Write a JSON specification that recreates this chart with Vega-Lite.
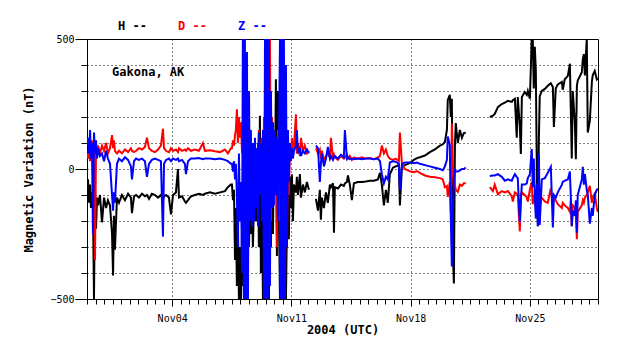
{
"$schema": "https://vega.github.io/schema/vega-lite/v6.json",
"width": 511, "height": 260,
"autosize": {"type": "none"},
"padding": {"left": 87, "top": 39, "right": 40, "bottom": 60},
"background": "white",
"config": {"view": {"stroke": "black", "strokeWidth": 1}, "font": "DejaVu Sans Mono"},
"layer": [
{
"data": {"values": [
{"x":-1.00,"g":0,"H":-110,"D":60,"Z":90},
{"x":-0.94,"g":0,"H":-40,"D":40,"Z":120},
{"x":-0.88,"g":0,"H":-130,"D":80,"Z":60},
{"x":-0.82,"g":0,"H":-60,"D":30,"Z":150},
{"x":-0.77,"g":0,"H":-150,"D":70,"Z":40},
{"x":-0.71,"g":0,"H":-90,"D":110,"Z":100},
{"x":-0.65,"g":0,"H":-140,"D":50,"Z":-250},
{"x":-0.59,"g":0,"H":-500,"D":90,"Z":140},
{"x":-0.53,"g":0,"H":-80,"D":-350,"Z":60},
{"x":-0.47,"g":0,"H":-230,"D":80,"Z":110},
{"x":-0.41,"g":0,"H":-110,"D":50,"Z":40},
{"x":-0.35,"g":0,"H":-140,"D":90,"Z":80},
{"x":-0.24,"g":0,"H":-100,"D":60,"Z":50},
{"x":-0.12,"g":0,"H":-205,"D":90,"Z":60},
{"x":0.00,"g":0,"H":-110,"D":70,"Z":30},
{"x":0.12,"g":0,"H":-150,"D":100,"Z":70},
{"x":0.23,"g":0,"H":-120,"D":60,"Z":40},
{"x":0.35,"g":0,"H":-140,"D":80,"Z":20},
{"x":0.47,"g":0,"H":-250,"D":130,"Z":-100},
{"x":0.53,"g":0,"H":-410,"D":80,"Z":-160},
{"x":0.58,"g":0,"H":-180,"D":110,"Z":-90},
{"x":0.64,"g":0,"H":-310,"D":70,"Z":-130},
{"x":0.76,"g":0,"H":-110,"D":60,"Z":20},
{"x":0.88,"g":0,"H":-130,"D":70,"Z":40},
{"x":1.05,"g":0,"H":-100,"D":60,"Z":30},
{"x":1.23,"g":0,"H":-120,"D":75,"Z":45},
{"x":1.41,"g":0,"H":-95,"D":65,"Z":35},
{"x":1.58,"g":0,"H":-110,"D":80,"Z":10},
{"x":1.64,"g":0,"H":-170,"D":70,"Z":-40},
{"x":1.76,"g":0,"H":-105,"D":65,"Z":30},
{"x":1.88,"g":0,"H":-100,"D":70,"Z":40},
{"x":2.05,"g":0,"H":-110,"D":80,"Z":35},
{"x":2.23,"g":0,"H":-95,"D":75,"Z":40},
{"x":2.40,"g":0,"H":-105,"D":85,"Z":30},
{"x":2.52,"g":0,"H":-100,"D":120,"Z":-30},
{"x":2.64,"g":0,"H":-115,"D":80,"Z":20},
{"x":2.81,"g":0,"H":-95,"D":70,"Z":35},
{"x":2.99,"g":0,"H":-100,"D":65,"Z":40},
{"x":3.17,"g":0,"H":-110,"D":75,"Z":35},
{"x":3.34,"g":0,"H":-100,"D":90,"Z":30},
{"x":3.46,"g":0,"H":-120,"D":155,"Z":-260},
{"x":3.52,"g":0,"H":-105,"D":80,"Z":20},
{"x":3.64,"g":0,"H":-100,"D":70,"Z":35},
{"x":3.81,"g":0,"H":-110,"D":65,"Z":40},
{"x":3.93,"g":0,"H":-175,"D":80,"Z":30},
{"x":4.05,"g":0,"H":-100,"D":70,"Z":40},
{"x":4.22,"g":0,"H":-90,"D":75,"Z":35},
{"x":4.34,"g":0,"H":0,"D":65,"Z":40},
{"x":4.40,"g":0,"H":-110,"D":80,"Z":30},
{"x":4.58,"g":0,"H":-105,"D":70,"Z":35},
{"x":4.75,"g":0,"H":-125,"D":75,"Z":20},
{"x":4.81,"g":0,"H":-130,"D":70,"Z":-20},
{"x":4.93,"g":0,"H":-120,"D":80,"Z":30},
{"x":5.10,"g":0,"H":-105,"D":70,"Z":40},
{"x":5.34,"g":0,"H":-100,"D":75,"Z":40},
{"x":5.57,"g":0,"H":-95,"D":70,"Z":42},
{"x":5.81,"g":0,"H":-100,"D":100,"Z":38},
{"x":5.92,"g":0,"H":-95,"D":70,"Z":40},
{"x":6.22,"g":0,"H":-90,"D":72,"Z":40},
{"x":6.51,"g":0,"H":-95,"D":68,"Z":38},
{"x":6.81,"g":0,"H":-90,"D":65,"Z":40},
{"x":7.10,"g":0,"H":-85,"D":75,"Z":35},
{"x":7.27,"g":0,"H":-70,"D":60,"Z":30},
{"x":7.45,"g":0,"H":-60,"D":80,"Z":20},
{"x":7.51,"g":0,"H":-60,"D":80,"Z":20},
{"x":7.57,"g":0,"H":-120,"D":110,"Z":-10},
{"x":7.63,"g":0,"H":-80,"D":90,"Z":30},
{"x":7.69,"g":0,"H":-350,"D":130,"Z":-40},
{"x":7.74,"g":0,"H":-150,"D":150,"Z":20},
{"x":7.80,"g":0,"H":-450,"D":230,"Z":-100},
{"x":7.86,"g":0,"H":-200,"D":100,"Z":-300},
{"x":7.92,"g":0,"H":-500,"D":200,"Z":60},
{"x":7.98,"g":0,"H":-300,"D":120,"Z":-200},
{"x":8.04,"g":0,"H":-500,"D":180,"Z":-50},
{"x":8.10,"g":0,"H":-250,"D":60,"Z":-400},
{"x":8.15,"g":0,"H":-450,"D":150,"Z":500},
{"x":8.21,"g":0,"H":-150,"D":40,"Z":-500},
{"x":8.27,"g":0,"H":-500,"D":200,"Z":500},
{"x":8.33,"g":0,"H":-350,"D":-100,"Z":-500},
{"x":8.39,"g":0,"H":-500,"D":120,"Z":450},
{"x":8.45,"g":0,"H":-200,"D":-270,"Z":-500},
{"x":8.51,"g":0,"H":-300,"D":50,"Z":300},
{"x":8.57,"g":0,"H":-100,"D":-150,"Z":-200},
{"x":8.62,"g":0,"H":-250,"D":30,"Z":150},
{"x":8.68,"g":0,"H":-80,"D":-50,"Z":-220},
{"x":8.74,"g":0,"H":-300,"D":80,"Z":100},
{"x":8.80,"g":0,"H":-150,"D":-100,"Z":-200},
{"x":8.86,"g":0,"H":20,"D":60,"Z":120},
{"x":8.92,"g":0,"H":-200,"D":-30,"Z":-150},
{"x":8.98,"g":0,"H":-100,"D":80,"Z":80},
{"x":9.04,"g":0,"H":100,"D":-20,"Z":-220},
{"x":9.09,"g":0,"H":-300,"D":150,"Z":140},
{"x":9.15,"g":0,"H":205,"D":-100,"Z":-100},
{"x":9.21,"g":0,"H":-400,"D":80,"Z":100},
{"x":9.27,"g":0,"H":-100,"D":120,"Z":-200},
{"x":9.33,"g":0,"H":-500,"D":-200,"Z":150},
{"x":9.39,"g":0,"H":50,"D":200,"Z":-500},
{"x":9.45,"g":0,"H":-500,"D":-400,"Z":500},
{"x":9.50,"g":0,"H":100,"D":300,"Z":-500},
{"x":9.56,"g":0,"H":-450,"D":-500,"Z":500},
{"x":9.62,"g":0,"H":-200,"D":500,"Z":-500},
{"x":9.68,"g":0,"H":-500,"D":-300,"Z":500},
{"x":9.74,"g":0,"H":0,"D":500,"Z":-450},
{"x":9.80,"g":0,"H":-300,"D":-200,"Z":300},
{"x":9.86,"g":0,"H":100,"D":200,"Z":-150},
{"x":9.92,"g":0,"H":-250,"D":-100,"Z":180},
{"x":9.97,"g":0,"H":150,"D":150,"Z":-140},
{"x":10.03,"g":0,"H":-100,"D":-50,"Z":150},
{"x":10.09,"g":0,"H":345,"D":100,"Z":-100},
{"x":10.15,"g":0,"H":-335,"D":-300,"Z":120},
{"x":10.21,"g":0,"H":300,"D":150,"Z":-200},
{"x":10.27,"g":0,"H":-200,"D":-200,"Z":100},
{"x":10.33,"g":0,"H":-500,"D":175,"Z":500},
{"x":10.38,"g":0,"H":100,"D":-500,"Z":-500},
{"x":10.44,"g":0,"H":-500,"D":370,"Z":500},
{"x":10.50,"g":0,"H":50,"D":-400,"Z":-500},
{"x":10.56,"g":0,"H":-500,"D":300,"Z":500},
{"x":10.62,"g":0,"H":-100,"D":-500,"Z":-500},
{"x":10.68,"g":0,"H":-500,"D":200,"Z":400},
{"x":10.74,"g":0,"H":-200,"D":-300,"Z":-300},
{"x":10.80,"g":0,"H":-100,"D":100,"Z":150},
{"x":10.85,"g":0,"H":-270,"D":-100,"Z":-50},
{"x":10.91,"g":0,"H":-30,"D":80,"Z":100},
{"x":10.97,"g":0,"H":-150,"D":40,"Z":30},
{"x":11.03,"g":0,"H":-20,"D":120,"Z":80},
{"x":11.09,"g":0,"H":-200,"D":60,"Z":40},
{"x":11.15,"g":0,"H":-60,"D":90,"Z":70},
{"x":11.27,"g":0,"H":-90,"D":210,"Z":90},
{"x":11.32,"g":0,"H":-30,"D":60,"Z":150},
{"x":11.38,"g":0,"H":-100,"D":100,"Z":60},
{"x":11.50,"g":0,"H":-20,"D":50,"Z":80},
{"x":11.56,"g":0,"H":-110,"D":120,"Z":50},
{"x":11.68,"g":0,"H":-60,"D":70,"Z":70},
{"x":11.79,"g":0,"H":-90,"D":90,"Z":60},
{"x":11.91,"g":0,"H":-50,"D":60,"Z":75},
{"x":12.03,"g":0,"H":-80,"D":70,"Z":60},
{"x":12.44,"g":1,"H":-115,"D":80,"Z":90},
{"x":12.56,"g":1,"H":-160,"D":60,"Z":80},
{"x":12.67,"g":1,"H":-80,"D":75,"Z":-50},
{"x":12.73,"g":1,"H":-195,"D":40,"Z":20},
{"x":12.79,"g":1,"H":-110,"D":70,"Z":60},
{"x":12.91,"g":1,"H":-150,"D":35,"Z":10},
{"x":13.03,"g":1,"H":-90,"D":50,"Z":40},
{"x":13.14,"g":1,"H":-130,"D":60,"Z":85},
{"x":13.26,"g":1,"H":-60,"D":45,"Z":40},
{"x":13.32,"g":1,"H":-70,"D":120,"Z":50},
{"x":13.44,"g":1,"H":-55,"D":40,"Z":35},
{"x":13.50,"g":1,"H":-245,"D":55,"Z":45},
{"x":13.55,"g":1,"H":-70,"D":45,"Z":50},
{"x":13.73,"g":1,"H":-75,"D":35,"Z":40},
{"x":13.91,"g":1,"H":-60,"D":50,"Z":55},
{"x":14.08,"g":1,"H":-65,"D":40,"Z":45},
{"x":14.14,"g":1,"H":-55,"D":45,"Z":150},
{"x":14.26,"g":1,"H":-50,"D":55,"Z":40},
{"x":14.32,"g":1,"H":-25,"D":40,"Z":45},
{"x":14.43,"g":1,"H":-60,"D":50,"Z":38},
{"x":14.55,"g":1,"H":-120,"D":35,"Z":40},
{"x":14.67,"g":1,"H":-55,"D":45,"Z":38},
{"x":14.90,"g":1,"H":-50,"D":40,"Z":40},
{"x":15.14,"g":1,"H":-50,"D":45,"Z":38},
{"x":15.37,"g":1,"H":-48,"D":40,"Z":40},
{"x":15.61,"g":1,"H":-45,"D":42,"Z":40},
{"x":15.84,"g":1,"H":-45,"D":38,"Z":38},
{"x":16.08,"g":1,"H":-40,"D":45,"Z":40},
{"x":16.20,"g":1,"H":-15,"D":50,"Z":30},
{"x":16.31,"g":1,"H":-60,"D":90,"Z":-20},
{"x":16.43,"g":1,"H":-140,"D":60,"Z":-55},
{"x":16.55,"g":1,"H":-80,"D":75,"Z":-30},
{"x":16.66,"g":1,"H":-130,"D":50,"Z":-40},
{"x":16.78,"g":1,"H":-20,"D":40,"Z":25},
{"x":16.96,"g":1,"H":5,"D":35,"Z":30},
{"x":17.13,"g":1,"H":10,"D":40,"Z":28},
{"x":17.31,"g":1,"H":15,"D":30,"Z":20},
{"x":17.37,"g":1,"H":-140,"D":140,"Z":-80},
{"x":17.49,"g":1,"H":10,"D":20,"Z":20},
{"x":17.66,"g":1,"H":15,"D":0,"Z":25},
{"x":17.84,"g":1,"H":20,"D":-5,"Z":25},
{"x":18.01,"g":1,"H":25,"D":-10,"Z":25},
{"x":18.19,"g":1,"H":35,"D":-12,"Z":22},
{"x":18.37,"g":1,"H":42,"D":-8,"Z":25},
{"x":18.54,"g":1,"H":45,"D":-15,"Z":20},
{"x":18.84,"g":1,"H":52,"D":-25,"Z":15},
{"x":19.13,"g":1,"H":65,"D":-30,"Z":10},
{"x":19.42,"g":1,"H":75,"D":-32,"Z":5},
{"x":19.72,"g":1,"H":90,"D":-35,"Z":0},
{"x":19.89,"g":1,"H":95,"D":-40,"Z":-5},
{"x":20.01,"g":1,"H":104,"D":-70,"Z":10},
{"x":20.13,"g":1,"H":150,"D":-65,"Z":35},
{"x":20.18,"g":1,"H":265,"D":-107,"Z":125},
{"x":20.30,"g":1,"H":285,"D":-50,"Z":92},
{"x":20.36,"g":1,"H":200,"D":-170,"Z":-195},
{"x":20.42,"g":1,"H":270,"D":175,"Z":-375},
{"x":20.48,"g":1,"H":-325,"D":0,"Z":-160},
{"x":20.54,"g":1,"H":-440,"D":-70,"Z":-40},
{"x":20.60,"g":1,"H":90,"D":-60,"Z":-5},
{"x":20.65,"g":1,"H":177,"D":-80,"Z":-10},
{"x":20.77,"g":1,"H":100,"D":-88,"Z":-10},
{"x":20.89,"g":1,"H":150,"D":-60,"Z":-5},
{"x":21.01,"g":1,"H":120,"D":-65,"Z":0},
{"x":21.12,"g":1,"H":138,"D":-55,"Z":0},
{"x":21.24,"g":1,"H":140,"D":-55,"Z":5},
{"x":22.65,"g":2,"H":200,"D":-70,"Z":-27},
{"x":22.83,"g":2,"H":205,"D":-85,"Z":-25},
{"x":22.94,"g":2,"H":212,"D":-60,"Z":-25},
{"x":23.12,"g":2,"H":238,"D":-97,"Z":-20},
{"x":23.35,"g":2,"H":250,"D":-85,"Z":-30},
{"x":23.53,"g":2,"H":255,"D":-90,"Z":-45},
{"x":23.71,"g":2,"H":262,"D":-85,"Z":-40},
{"x":23.94,"g":2,"H":258,"D":-105,"Z":-45},
{"x":24.00,"g":2,"H":265,"D":-125,"Z":-35},
{"x":24.12,"g":2,"H":270,"D":-90,"Z":-20},
{"x":24.23,"g":2,"H":120,"D":-95,"Z":-30},
{"x":24.29,"g":2,"H":277,"D":-100,"Z":-35},
{"x":24.41,"g":2,"H":165,"D":-240,"Z":-205},
{"x":24.47,"g":2,"H":58,"D":-110,"Z":-120},
{"x":24.53,"g":2,"H":277,"D":-90,"Z":-60},
{"x":24.70,"g":2,"H":296,"D":-100,"Z":-60},
{"x":24.82,"g":2,"H":285,"D":-110,"Z":-55},
{"x":24.88,"g":2,"H":300,"D":-125,"Z":-35},
{"x":25.00,"g":2,"H":270,"D":-80,"Z":-20},
{"x":25.11,"g":2,"H":500,"D":-50,"Z":77},
{"x":25.17,"g":2,"H":500,"D":-135,"Z":-70},
{"x":25.23,"g":2,"H":310,"D":-100,"Z":40},
{"x":25.29,"g":2,"H":470,"D":-120,"Z":-100},
{"x":25.35,"g":2,"H":380,"D":-155,"Z":-190},
{"x":25.41,"g":2,"H":-12,"D":-110,"Z":-60},
{"x":25.47,"g":2,"H":-220,"D":-130,"Z":-220},
{"x":25.53,"g":2,"H":120,"D":-100,"Z":60},
{"x":25.58,"g":2,"H":280,"D":-140,"Z":-215},
{"x":25.70,"g":2,"H":300,"D":-110,"Z":-40},
{"x":25.88,"g":2,"H":308,"D":-125,"Z":-35},
{"x":26.05,"g":2,"H":320,"D":-130,"Z":-15},
{"x":26.23,"g":2,"H":330,"D":-75,"Z":8},
{"x":26.35,"g":2,"H":315,"D":-140,"Z":-225},
{"x":26.41,"g":2,"H":162,"D":-110,"Z":-100},
{"x":26.52,"g":2,"H":310,"D":-120,"Z":-110},
{"x":26.64,"g":2,"H":325,"D":-135,"Z":-90},
{"x":26.88,"g":2,"H":335,"D":-150,"Z":-60},
{"x":26.93,"g":2,"H":305,"D":-130,"Z":-50},
{"x":27.05,"g":2,"H":345,"D":-140,"Z":-45},
{"x":27.23,"g":2,"H":358,"D":-150,"Z":-40},
{"x":27.35,"g":2,"H":405,"D":-165,"Z":-10},
{"x":27.40,"g":2,"H":235,"D":-120,"Z":-100},
{"x":27.46,"g":2,"H":40,"D":-220,"Z":-220},
{"x":27.52,"g":2,"H":300,"D":-140,"Z":-160},
{"x":27.64,"g":2,"H":180,"D":-150,"Z":-180},
{"x":27.70,"g":2,"H":38,"D":-170,"Z":-120},
{"x":27.76,"g":2,"H":320,"D":-270,"Z":-245},
{"x":27.81,"g":2,"H":340,"D":-165,"Z":-100},
{"x":28.05,"g":2,"H":372,"D":-140,"Z":-40},
{"x":28.11,"g":2,"H":423,"D":-120,"Z":8},
{"x":28.17,"g":2,"H":442,"D":-130,"Z":-60},
{"x":28.23,"g":2,"H":360,"D":-110,"Z":-20},
{"x":28.34,"g":2,"H":500,"D":-100,"Z":-80},
{"x":28.40,"g":2,"H":140,"D":-90,"Z":-100},
{"x":28.52,"g":2,"H":185,"D":-65,"Z":-210},
{"x":28.64,"g":2,"H":335,"D":-130,"Z":-150},
{"x":28.69,"g":2,"H":360,"D":-110,"Z":-180},
{"x":28.81,"g":2,"H":377,"D":-95,"Z":-100},
{"x":28.93,"g":2,"H":345,"D":-150,"Z":-80},
{"x":28.99,"g":2,"H":350,"D":-165,"Z":-75}
]},
"transform": [{"fold": ["H", "D", "Z"], "as": ["comp", "val"]}],
"mark": {"type": "line", "clip": true},
"encoding": {
"x": {"field": "x", "type": "quantitative",
 "scale": {"domain": [-1, 29], "nice": false, "zero": false},
 "axis": {"title": "2004 (UTC)", "titleFont": "DejaVu Sans Mono", "titleFontWeight": "bold", "titleFontSize": 12, "titleColor": "black", "titlePadding": 1,
  "tickCount": 200,
  "values": [-1,-0.5,0,0.5,1,1.5,2,2.5,3,3.5,4,4.5,5,5.5,6,6.5,7,7.5,8,8.5,9,9.5,10,10.5,11,11.5,12,12.5,13,13.5,14,14.5,15,15.5,16,16.5,17,17.5,18,18.5,19,19.5,20,20.5,21,21.5,22,22.5,23,23.5,24,24.5,25,25.5,26,26.5,27,27.5,28,28.5,29],
  "labelExpr": "datum.value == 4 ? 'Nov04' : datum.value == 11 ? 'Nov11' : datum.value == 18 ? 'Nov18' : datum.value == 25 ? 'Nov25' : ''",
  "labelFont": "DejaVu Sans Mono", "labelFontSize": 10, "labelColor": "black", "labelPadding": 7, "labelOverlap": false, "labelFlush": false,
  "tickColor": "black", "domainColor": "black",
  "tickSize": {"condition": {"test": "indexof([4,11,18,25], datum.value) >= 0", "value": 7}, "value": 5},
  "grid": true, "gridColor": "black", "gridDash": [1, 3],
  "gridOpacity": {"condition": {"test": "indexof([4,11,18,25], datum.value) >= 0", "value": 1}, "value": 0}}},
"y": {"field": "val", "type": "quantitative",
 "scale": {"domain": [-500, 500], "nice": false},
 "axis": {"title": "Magnetic Variation (nT)", "titleFont": "DejaVu Sans Mono", "titleFontWeight": "bold", "titleFontSize": 12, "titleColor": "black", "titlePadding": 14,
  "tickCount": 100,
  "values": [-500,-400,-300,-200,-100,0,100,200,300,400,500],
  "labelExpr": "datum.value == 500 || datum.value == 0 || datum.value == -500 ? datum.label : ''",
  "labelFont": "DejaVu Sans Mono", "labelFontSize": 10, "labelColor": "black", "labelPadding": 1, "labelFlush": false, "labelOverlap": false,
  "tickColor": "black", "domainColor": "black",
  "tickSize": {"condition": {"test": "datum.value == 500 || datum.value == 0 || datum.value == -500", "value": 12}, "value": 6},
  "grid": true, "gridColor": "black", "gridDash": [1, 3]}},
"color": {"field": "comp", "type": "nominal",
 "scale": {"domain": ["H", "D", "Z"], "range": ["black", "#ff0000", "#0000ff"]},
 "legend": {"orient": "none", "legendX": 19, "legendY": -19, "direction": "horizontal", "title": null,
  "symbolSize": 0, "symbolOpacity": 0, "symbolStrokeWidth": 0, "labelOffset": 0, "columnPadding": 19,
  "labelFont": "DejaVu Sans Mono", "labelFontWeight": "bold", "labelFontSize": 12,
  "labelExpr": "datum.label + ' --'",
  "encode": {"labels": {"update": {"fill": {"scale": "color", "field": "value"}}}}}},
"strokeWidth": {"field": "comp", "type": "nominal", "scale": {"domain": ["H", "D", "Z"], "range": [2, 2, 1.2]}, "legend": null},
"detail": {"field": "g"}
}
},
{
"data": {"values": [{"x": 0.47, "val": 374, "t": "Gakona, AK"}]},
"mark": {"type": "text", "align": "left", "baseline": "middle", "font": "DejaVu Sans Mono", "fontWeight": "bold", "fontSize": 12, "color": "black"},
"encoding": {
"x": {"field": "x", "type": "quantitative"},
"y": {"field": "val", "type": "quantitative"},
"text": {"field": "t"}
}
}
]
}
